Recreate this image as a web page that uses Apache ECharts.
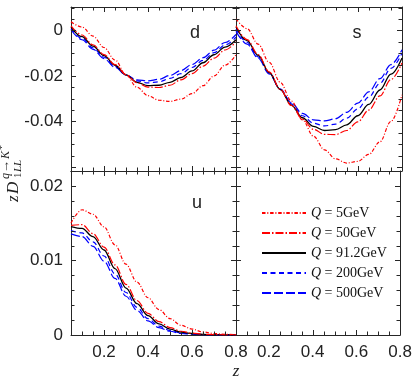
<!DOCTYPE html>
<html><head><meta charset="utf-8">
<script src="https://cdn.jsdelivr.net/npm/echarts@6/dist/echarts.min.js"></script>
<style>html,body{margin:0;padding:0;background:#fff}#c{width:415px;height:381px}</style>
</head><body><div id="c"></div>
<script>
// ---- data ----
const zValues = [0.05,0.10,0.15,0.20,0.25,0.30,0.35,0.40,0.45,0.50,0.55,0.60,0.65,0.70,0.75,0.80];
const seriesNames = ['5GeV','50GeV','91.2GeV','200GeV','500GeV'];
const xTickLabels = [0.2,0.4,0.6,0.8];
const yTickLabelsTop = [-0.04,-0.02,0];
const yTickLabelsBottom = [0,0.01,0.02];

const dQ5   = [0.0038,0.0015,-0.0025,-0.0075,-0.0130,-0.0195,-0.0250,-0.0287,-0.0307,-0.0312,-0.0302,-0.0278,-0.0243,-0.0200,-0.0153,-0.0107];
const dQ50  = [0.0020,-0.0020,-0.0063,-0.0106,-0.0150,-0.0194,-0.0230,-0.0249,-0.0251,-0.0241,-0.0217,-0.0190,-0.0157,-0.0122,-0.0086,-0.0050];
const dQ91  = [0.0015,-0.0027,-0.0069,-0.0111,-0.0153,-0.0195,-0.0228,-0.0243,-0.0241,-0.0228,-0.0207,-0.0178,-0.0142,-0.0107,-0.0073,-0.0041];
const dQ200 = [0.0008,-0.0035,-0.0077,-0.0118,-0.0158,-0.0195,-0.0222,-0.0231,-0.0226,-0.0211,-0.0190,-0.0163,-0.0132,-0.0098,-0.0064,-0.0030];
const dQ500 = [0.0003,-0.0041,-0.0083,-0.0124,-0.0162,-0.0196,-0.0217,-0.0222,-0.0215,-0.0198,-0.0176,-0.0150,-0.0120,-0.0087,-0.0053,-0.0018];

const sQ5   = [0.0051,0.0008,-0.0060,-0.0140,-0.0228,-0.0310,-0.0393,-0.0465,-0.0525,-0.0565,-0.0583,-0.0576,-0.0545,-0.0490,-0.0400,-0.0283];
const sQ50  = [0.0021,-0.0040,-0.0106,-0.0182,-0.0259,-0.0330,-0.0390,-0.0435,-0.0457,-0.0458,-0.0440,-0.0402,-0.0350,-0.0288,-0.0216,-0.0143];
const sQ91  = [0.0015,-0.0045,-0.0110,-0.0185,-0.0260,-0.0328,-0.0384,-0.0422,-0.0440,-0.0436,-0.0415,-0.0375,-0.0325,-0.0262,-0.0192,-0.0121];
const sQ200 = [0.0006,-0.0052,-0.0116,-0.0188,-0.0258,-0.0323,-0.0375,-0.0408,-0.0420,-0.0412,-0.0386,-0.0345,-0.0293,-0.0233,-0.0167,-0.0100];
const sQ500 = [-0.0004,-0.0060,-0.0122,-0.0191,-0.0258,-0.0318,-0.0365,-0.0393,-0.0398,-0.0388,-0.0360,-0.0320,-0.0270,-0.0212,-0.0150,-0.0085];

const uQ5   = [0.0150,0.0168,0.0162,0.0145,0.0121,0.0095,0.0071,0.0050,0.0034,0.0022,0.0013,0.0008,0.0004,0.0002,0.0001,0.00004];
const uQ50  = [0.0147,0.0148,0.0136,0.0118,0.0094,0.0068,0.0046,0.0029,0.0018,0.0010,0.0005,0.00025,0.0001,0.00005,0.00002,0];
const uQ91  = [0.01455,0.0143,0.0132,0.0114,0.0089,0.0063,0.0042,0.0026,0.0015,0.0008,0.0004,0.0002,0.00008,0.00003,0.00001,0];
const uQ200 = [0.0140,0.0137,0.0125,0.0106,0.0082,0.0057,0.0037,0.0022,0.0012,0.0006,0.0003,0.00012,0.00005,0.00002,0.00001,0];
const uQ500 = [0.01356,0.0132,0.0119,0.0099,0.0076,0.0052,0.0033,0.0019,0.0010,0.0005,0.0002,0.0001,0.00004,0.00001,0,0];

// ---- layout / style ----
const AX = '#262626';
const LBL = {fontFamily:'Liberation Sans, Arial, sans-serif', fontSize:17, color:'#222'};
const styles = [
  {color:'#ff0000', width:1.2, type:[3.5,1.8,1,1.8]},
  {color:'#ff0000', width:1.2, type:[8,2,1.5,2]},
  {color:'#000000', width:1.3, type:'solid'},
  {color:'#0000ff', width:1.2, type:[5,3.5]},
  {color:'#0000ff', width:1.2, type:[9,3]}
];
function range(a,b,s){const r=[];for(let v=a;v<=b+1e-9;v+=s)r.push(+v.toFixed(6));return r;}
function isMult(v,step){return Math.abs(v/step-Math.round(v/step))<1e-6;}

const X0 = 0.05, X1 = 0.8;
const yRanges = [
  {min:-0.0618, max:0.0103, ticks:range(-0.06,0.01,0.005), major:0.02},
  {min:-0.0618, max:0.0103, ticks:range(-0.06,0.01,0.005), major:0.02},
  {min:0, max:0.022, ticks:range(0.002,0.02,0.002), major:0.01},
  {min:0, max:0.022, ticks:range(0.002,0.02,0.002), major:0.01}
];
const xTicks = range(0.1,0.75,0.05);

const grids = [
  {left:71, top:7, width:165, height:164},
  {left:236, top:7, width:166, height:164},
  {left:71, top:171, width:165, height:164},
  {left:236, top:171, width:166, height:164}
];
const showXLab = [false,false,true,true];
const yLabs = [yTickLabelsTop, null, yTickLabelsBottom, null];

const xAxis = [], yAxis = [];
grids.forEach((g,gi)=>{
  ['bottom','top'].forEach(pos=>{
    xAxis.push({type:'value', gridIndex:gi, position:pos, min:X0, max:X1,
      axisLine:{show:true, onZero:false, lineStyle:{color:AX, width:1}},
      axisTick:{show:false},
      axisLabel:(pos==='bottom' && showXLab[gi]) ? Object.assign({show:true, margin:9, customValues:xTickLabels,
        formatter:v=>String(+v.toFixed(2))}, LBL) : {show:false},
      splitLine:{show:false}});
  });
  const yr = yRanges[gi];
  ['left','right'].forEach(pos=>{
    const lab = (pos==='left' && yLabs[gi]);
    yAxis.push({type:'value', gridIndex:gi, position:pos, min:yr.min, max:yr.max,
      axisLine:{show:true, onZero:false, lineStyle:{color:AX, width:1}},
      axisTick:{show:false},
      axisLabel: lab ? Object.assign({show:true, margin:8, customValues:yLabs[gi],
        formatter:v=>String(+v.toFixed(3))}, LBL) : {show:false},
      splitLine:{show:false}});
  });
});

const panelData = [[dQ5,dQ50,dQ91,dQ200,dQ500],[sQ5,sQ50,sQ91,sQ200,sQ500],[uQ5,uQ50,uQ91,uQ200,uQ500]];
const series = [];
panelData.forEach((arr,gi)=>{
  arr.forEach((vals,k)=>{
    series.push({type:'line', name:seriesNames[k], xAxisIndex:gi*2, yAxisIndex:gi*2,
      data: zValues.map((z,i)=>[z, vals[i]]), showSymbol:false, symbol:'none', smooth:0.35, smoothMonotone:'x',
      clip:true, lineStyle:styles[k], itemStyle:{color:styles[k].color}, z:10-k});
  });
});

const SERIF = '"Liberation Serif", "DejaVu Serif", serif';
function txt(x,y,t,font,align){return {type:'text', x:x, y:y, style:{text:t, font:font, fill:'#222', align:align||'left', verticalAlign:'middle', textAlign:align||'left', textVerticalAlign:'middle'}};}
const graphic = [
  txt(195,33,'d','18px "Liberation Sans", Arial, sans-serif','center'),
  txt(357,33,'s','18px "Liberation Sans", Arial, sans-serif','center'),
  txt(197,203,'u','18px "Liberation Sans", Arial, sans-serif','center'),
  txt(236,372,'z','italic 17px '+SERIF,'center'),
  {type:'group', x:19, y:202, rotation:Math.PI/2, children:[
    txt(0,-5,'z','italic 17px '+SERIF),
    txt(8,-5,'D','italic 17px '+SERIF),
    txt(23,-13,'q','italic 12px '+SERIF),
    txt(29,-13,'\u2192','13px '+SERIF),
    txt(43,-13,'K','italic 12px '+SERIF),
    txt(52,-17,'*','10px '+SERIF),
    txt(24,-1,'1','11px '+SERIF),
    txt(30,-1,'LL','italic 11px '+SERIF)
  ]}
];

const chart = echarts.init(document.getElementById('c'), null, {renderer:'canvas'});
chart.setOption({
  animation:false,
  backgroundColor:'#fff',
  grid:grids,
  xAxis:xAxis, yAxis:yAxis, series:series, graphic:graphic,
  legend:{orient:'vertical', left:256, top:201, itemWidth:44, itemHeight:14, itemGap:6,
    selectedMode:false, data:seriesNames,
    itemStyle:{opacity:0, borderWidth:0},
    formatter:n=>'{q|Q} = '+n,
    textStyle:{fontFamily:SERIF, fontSize:14, color:'#111', lineHeight:14,
      rich:{q:{fontFamily:SERIF, fontStyle:'italic', fontSize:14, color:'#111', lineHeight:14}}}}
});

// inward tick marks on all four sides of each panel, placed through each panel's own axes
try {
  function toPx(gi, x, y){
    let p = null;
    try { p = chart.convertToPixel({gridIndex:gi}, [x, y]); } catch(e) { p = null; }
    if (!p || !isFinite(p[0]) || !isFinite(p[1])) {
      try { p = chart.convertToPixel({xAxisIndex:gi*2, yAxisIndex:gi*2}, [x, y]); } catch(e) { p = null; }
    }
    return p;
  }
  const marks = [];
  grids.forEach((g,gi)=>{
    const yr = yRanges[gi];
    xTicks.forEach(v=>{
      const len = isMult(v,0.2) ? 5 : 3.5;
      const pb = toPx(gi, v, yr.min), pt = toPx(gi, v, yr.max);
      if (!pb || !pt) return;
      const x = Math.round(pb[0]);
      marks.push({type:'rect', silent:true, z:100, shape:{x:x, y:Math.round(pb[1])-len, width:1, height:len}, style:{fill:AX}});
      marks.push({type:'rect', silent:true, z:100, shape:{x:x, y:Math.round(pt[1]), width:1, height:len}, style:{fill:AX}});
    });
    yr.ticks.filter(v=>v>yr.min && v<yr.max).forEach(v=>{
      const len = isMult(v,yr.major) ? 5 : 3.5;
      const pl = toPx(gi, X0, v), pr = toPx(gi, X1, v);
      if (!pl || !pr) return;
      const y = Math.round(pl[1]);
      marks.push({type:'rect', silent:true, z:100, shape:{x:Math.round(pl[0]), y:y, width:len, height:1}, style:{fill:AX}});
      marks.push({type:'rect', silent:true, z:100, shape:{x:Math.round(pr[0])-len, y:y, width:len, height:1}, style:{fill:AX}});
    });
  });
  if (marks.length) {
    chart.setOption({graphic:{elements: graphic.concat([{type:'group', id:'tickmarks', silent:true, z:100, children:marks}])}});
  }
} catch (err) { /* keep the chart as drawn */ }
</script></body></html>
